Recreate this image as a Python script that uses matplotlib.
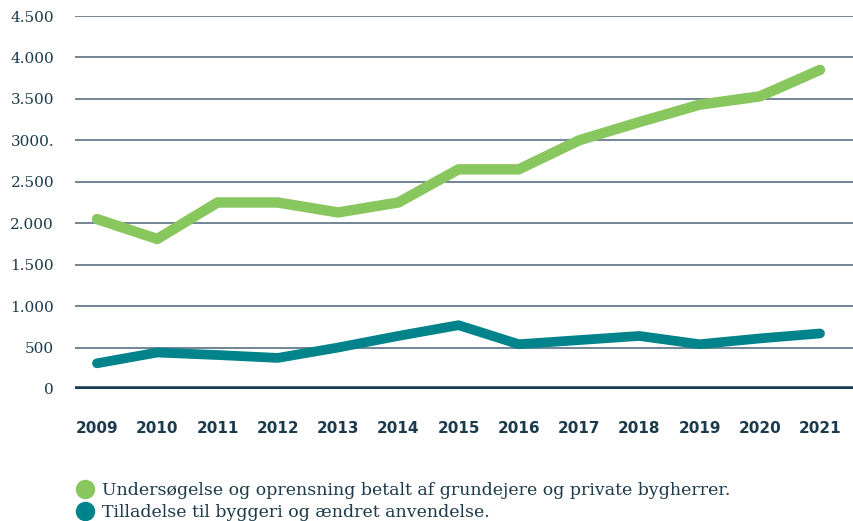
import matplotlib.pyplot as plt
from matplotlib.lines import Line2D

years = [2009, 2010, 2011, 2012, 2013, 2014, 2015, 2016, 2017, 2018, 2019, 2020, 2021]
private = [2050, 1810, 2250, 2250, 2130, 2250, 2650, 2650, 3000, 3220, 3430, 3530, 3850]
permits = [310, 440, 410, 375, 500, 640, 770, 540, 590, 640, 540, 610, 670]
yticks = [0, 500, 1000, 1500, 2000, 2500, 3000, 3500, 4000, 4500]
ylabels = ['0', '500', '1.000', '1.500', '2.000', '2.500', '3000.', '3.500', '4.000', '4.500']
names = ['Undersøgelse og oprensning betalt af grundejere og private bygherrer.',
         'Tilladelse til byggeri og ændret anvendelse.']

green = '#88c65e'
teal = '#00838a'
navy = '#1b3a4b'

fig = plt.figure(figsize=(8.54, 5.21), dpi=100)
ax = fig.add_axes([75 / 854, 132 / 521, 779 / 854, 373 / 521])

for v in yticks[1:]:
    ax.axhline(v, color='#4a6478', lw=1.1, zorder=1)
ax.axhline(0, color='#143b50', lw=4, zorder=1)

ax.plot(years, private, color=green, lw=7.5, solid_capstyle='round',
        solid_joinstyle='round', zorder=3, clip_on=False)
ax.plot(years, permits, color=teal, lw=7, solid_capstyle='round',
        solid_joinstyle='round', zorder=3, clip_on=False)

ax.set_xlim(2008.635, 2021.564)
ax.set_ylim(0, 4500)
ax.set_xticks(years)
ax.set_xticklabels([str(y) for y in years], fontsize=11, fontweight='bold',
                   color=navy, family='DejaVu Sans')
ax.set_yticks(yticks)
ax.set_yticklabels(ylabels, fontsize=11, color=navy, family='DejaVu Serif')
ax.tick_params(axis='x', length=0, pad=23)
ax.tick_params(axis='y', length=0, pad=15)
for s in ax.spines.values():
    s.set_visible(False)

handles = [Line2D([], [], ls='', marker='o', ms=13, color=green),
           Line2D([], [], ls='', marker='o', ms=13, color=teal)]
leg = fig.legend(handles, names, loc='upper left', bbox_to_anchor=(66 / 854, 1 - 473 / 521),
                 frameon=False, handletextpad=0.35, labelspacing=0.32, handlelength=1.2,
                 prop={'family': 'DejaVu Serif', 'size': 12.5}, borderpad=0)
for t in leg.get_texts():
    t.set_color(navy)

fig.savefig('out.png', dpi=100)
